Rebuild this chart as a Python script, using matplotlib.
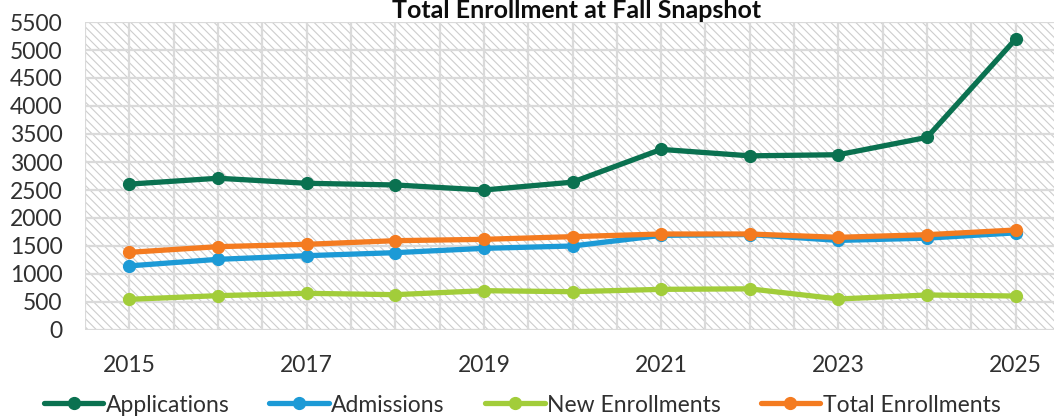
import matplotlib
matplotlib.use("Agg")
import matplotlib.pyplot as plt
from matplotlib.patches import Rectangle
from matplotlib.ticker import MultipleLocator

years = [2015, 2016, 2017, 2018, 2019, 2020, 2021, 2022, 2023, 2024, 2025]
applications = [2605, 2710, 2620, 2590, 2500, 2640, 3225, 3110, 3130, 3440, 5195]
admissions = [1145, 1262, 1327, 1381, 1458, 1500, 1690, 1705, 1600, 1640, 1735]
new_enrollments = [548, 613, 655, 631, 702, 684, 726, 735, 554, 625, 607]
total_enrollments = [1387, 1488, 1530, 1595, 1619, 1667, 1714, 1714, 1655, 1702, 1786]
xlabels = ["2015", "", "2017", "", "2019", "", "2021", "", "2023", "", "2025"]

series = [
    ("Applications", applications, "#0a7150"),
    ("Admissions", admissions, "#1c9ad6"),
    ("New Enrollments", new_enrollments, "#a2cd3a"),
    ("Total Enrollments", total_enrollments, "#f47b20"),
]

plt.rcParams['font.family'] = ['Lato', 'DejaVu Sans']
plt.rcParams['hatch.linewidth'] = 0.8
plt.rcParams['hatch.color'] = '#cdcdcd'

W, H = 1054, 416
fig = plt.figure(figsize=(W / 100, H / 100), dpi=100)
ax = fig.add_axes([85 / W, 86 / H, (1060 - 85) / W, (330 - 22) / H])

ax.add_patch(Rectangle((0, 0), 1, 1, transform=ax.transAxes, facecolor='white',
                       edgecolor='#cdcdcd', hatch='\\\\\\\\', lw=0, zorder=0))

for name, vals, col in series:
    ax.plot(years, vals, color=col, lw=3.8, marker='o', markersize=8.5,
            label=name, zorder=3, solid_capstyle='round')

ax.set_xlim(2014.5, 2025.5)
ax.set_ylim(0, 5500)
ax.yaxis.set_major_locator(MultipleLocator(500))
ax.set_xticks(years)
ax.set_xticklabels(xlabels)
ax.xaxis.set_minor_locator(MultipleLocator(0.5))
ax.grid(True, which='both', axis='x', color='#dadada', lw=1.6, zorder=1)
ax.grid(True, which='major', axis='y', color='#dadada', lw=1.6, zorder=1)
ax.set_axisbelow(False)
for s in ax.spines.values():
    s.set_visible(False)
ax.tick_params(axis='both', which='both', length=0, labelsize=16.5, colors='#303030')
ax.tick_params(axis='y', pad=16)
ax.tick_params(axis='x', pad=18)

fig.text(577 / W, (H - 18) / H, "Total Enrollment at Fall Snapshot", ha='center',
         va='baseline', fontsize=18, fontweight='bold', color='#0d0d0d', zorder=5)

leg = fig.legend(loc='center', bbox_to_anchor=(522 / W, (H - 405) / H), ncol=4,
                 frameon=False, fontsize=16.5, handlelength=2.6, handletextpad=0.1,
                 columnspacing=1.75, borderaxespad=0, borderpad=0)
for t in leg.get_texts():
    t.set_color('#303030')

fig.savefig("out.png", dpi=100)
